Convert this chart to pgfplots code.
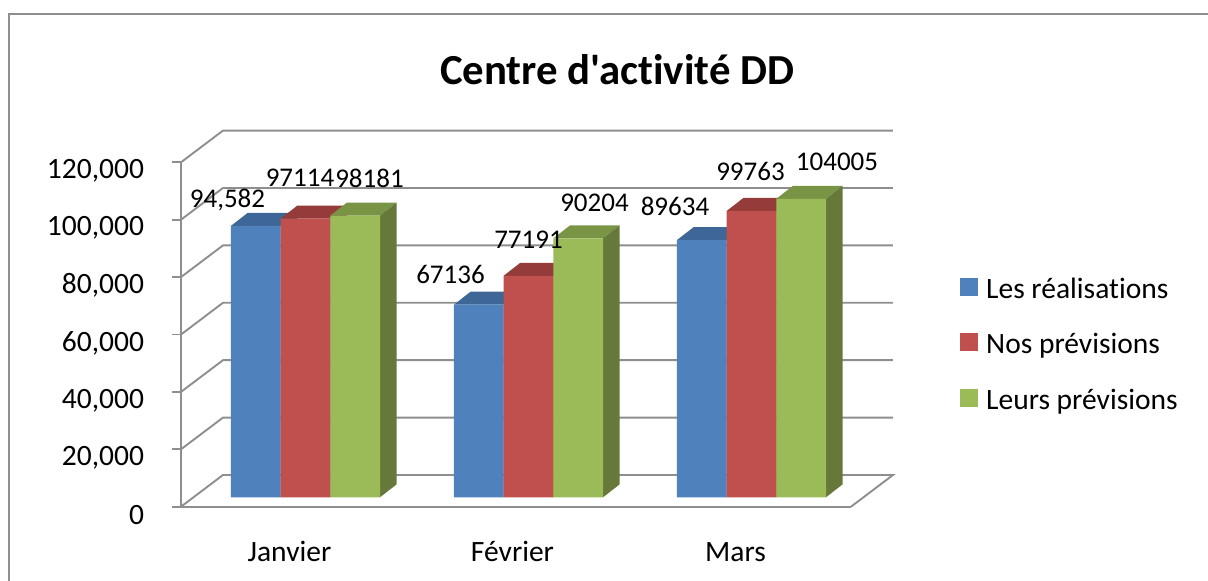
\documentclass[border=0pt]{standalone}
\usepackage{fontspec}
\setmainfont{Carlito}[Ligatures={TeX,NoCommon}]
\newfontfamily\titlefont{Carlito}[Ligatures=NoCommon]
\usepackage{pgfplots}
\pgfplotsset{compat=1.18}
\definecolor{gridg}{HTML}{8E8E8E}
\definecolor{bF}{HTML}{4F81BD}\definecolor{bT}{HTML}{3E6797}\definecolor{bS}{HTML}{385D8A}
\definecolor{rF}{HTML}{C0504D}\definecolor{rT}{HTML}{953C3A}\definecolor{rS}{HTML}{8A3836}
\definecolor{gF}{HTML}{9BBB59}\definecolor{gT}{HTML}{7A9446}\definecolor{gS}{HTML}{66783A}
\pgfplotsset{sq/.style={legend image code/.code={\fill[##1] (0pt,-7pt) rectangle (18pt,11pt);}}}
% depth faces of one bar: centre x, value, top colour, side colour
\newcommand\faces[4]{%
  \pgfmathsetmacro\xl{#1-0.1114}\pgfmathsetmacro\xr{#1+0.1114}%
  \pgfmathsetmacro\xld{#1-0.1114+0.0749}\pgfmathsetmacro\xrd{#1+0.1114+0.0749}%
  \edef\vt{\the\numexpr#2+4530\relax}%
  \addplot[fill=#3,draw=none,forget plot] coordinates {(\xl,#2)(\xld,\vt)(\xrd,\vt)(\xr,#2)};%
  \addplot[fill=#4,draw=none,forget plot] coordinates {(\xr,#2)(\xrd,\vt)(\xrd,4530)(\xr,0)};%
}
\newcommand\gridl[2]{\addplot[gridg,line width=1.9pt,forget plot] coordinates {(-0.5583,#1)(-0.37,#2)(2.6345,#2)};}
\begin{document}
\begin{tikzpicture}
\path[use as bounding box] (-181pt,-74.3pt) rectangle (1027pt,506.7pt);
\begin{axis}[
  name=main, at={(0pt,0pt)}, anchor=south west,
  scale only axis, width=670pt, height=344.4pt,
  xmin=-0.5583, xmax=2.4462, ymin=-3275, ymax=116725,
  clip=false,
  scaled y ticks=false,
  axis lines=left,
  axis line style={draw=gridg,line width=1.9pt,-},
  xtick={0,1,2}, xticklabels={Janvier,Février,{Mars\hspace{6pt}}},
  ytick={-3275,16725,36725,56725,76725,96725,116725},
  yticklabels={{0\hspace{-6pt}},{20,000},{40,000},{60,000},{80,000},{100,000},{120,000}},
  tick align=outside,
  major tick length=9pt,
  xtick style={draw=none},
  ytick style={draw=gridg,line width=1.9pt},
  ticklabel style={font=\fontsize{29.5}{32}\selectfont},
  xticklabel style={font=\fontsize{29.5}{32}\selectfont,xshift=-16pt,yshift=-26pt,text height=20pt,text depth=0pt,inner ysep=0pt},
  yticklabel style={xshift=-24.5pt,yshift=-8.5pt},
  title={\titlefont\bfseries Centre d'activité DD},
  title style={at={(0.651,1.251)},anchor=center,font=\fontsize{42.8}{50}\selectfont},
  legend style={at={(1.1627,0.665)},anchor=north west,draw=none,fill=none,inner sep=0pt,
     font=\fontsize{29.5}{34}\selectfont,/tikz/row sep=33.5pt,/tikz/column sep=6pt,
     nodes={inner ysep=0pt}},
  legend cell align=left,
]
% floor and back wall
\addplot[gridg,line width=1.9pt,forget plot] coordinates {(-0.5583,-3275)(-0.37,7775)(2.6345,7775)(2.4462,-3275)};
\gridl{16725}{27775}
\gridl{36725}{47775}
\gridl{56725}{67775}
\gridl{76725}{87775}
\gridl{96725}{107775}
\gridl{116725}{127775}
% blue
\faces{-0.2227}{94582}{bT}{bS}
\faces{0.7773}{67136}{bT}{bS}
\faces{1.7773}{89634}{bT}{bS}
\addplot[ybar,bar width=49.7pt,bar shift=-49.7pt,fill=bF,draw=none,sq] coordinates {(0,94582)(1,67136)(2,89634)};
% red
\faces{0}{97114}{rT}{rS}
\faces{1}{77191}{rT}{rS}
\faces{2}{99763}{rT}{rS}
\addplot[ybar,bar width=49.7pt,bar shift=0pt,fill=rF,draw=none,sq] coordinates {(0,97114)(1,77191)(2,99763)};
% green
\faces{0.2227}{98181}{gT}{gS}
\faces{1.2227}{90204}{gT}{gS}
\faces{2.2227}{104005}{gT}{gS}
\addplot[ybar,bar width=49.7pt,bar shift=49.7pt,fill=gF,draw=none,sq] coordinates {(0,98181)(1,90204)(2,104005)};
\legend{Les réalisations,Nos prévisions,Leurs prévisions}
\end{axis}
\begin{scope}[x=1pt,y=-1pt,shift={(-181pt,506.7pt)}]
\draw[gridg,line width=2pt] (9,581) -- (9,14.5) -- (1208,14.5);
\foreach \px/\py/\t in {227.5/200/{94,582},300/178/97114,369.5/178/98181,
  450.5/274/67136,528.5/240/77191,594.5/203/90204,
  675/206/89634,750.5/171/99763,837/162/104005}{
  \node[font=\fontsize{27}{30}\selectfont,inner sep=0pt] at (\px,\py) {\t};
}
\end{scope}
\end{tikzpicture}
\end{document}
